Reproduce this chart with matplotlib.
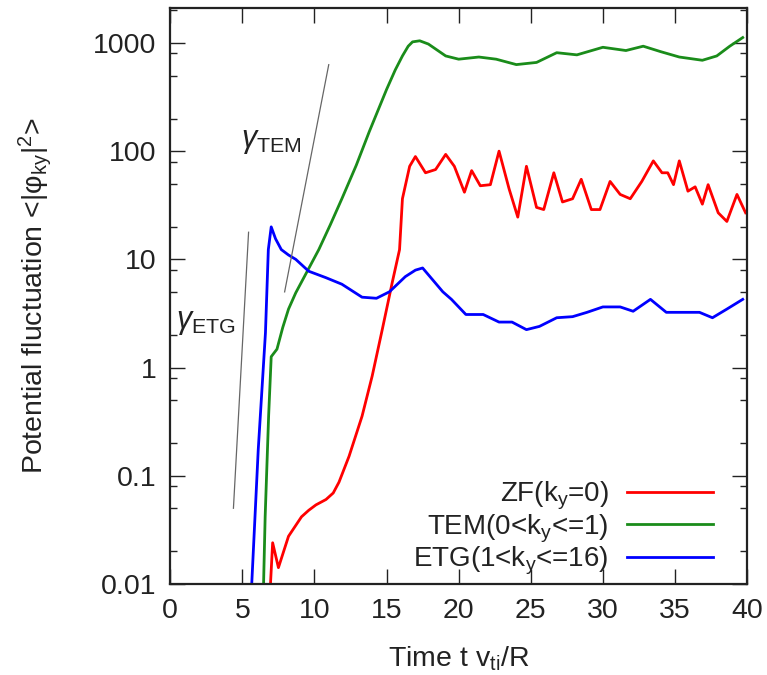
import numpy as np
import matplotlib
matplotlib.use('Agg')
import matplotlib.pyplot as plt
from matplotlib.ticker import LogLocator, NullFormatter, FixedLocator

plt.rcParams['font.family'] = ['Liberation Sans', 'DejaVu Sans']
plt.rcParams['mathtext.fontset'] = 'custom'
plt.rcParams['mathtext.rm'] = 'Liberation Sans'
plt.rcParams['mathtext.it'] = 'Liberation Sans:italic'

# ZF (k_y = 0), values as log10
t_zf = np.array([6.95, 7.1, 7.5, 8.2, 8.7, 9.1, 9.6, 10.1, 10.8, 11.3, 11.7, 12.4, 13.3, 14.0, 14.7,
                 15.4, 15.9, 16.1, 16.6, 17.0, 17.7, 18.4, 19.1, 19.7, 20.4, 20.9, 21.5, 22.2,
                 22.8, 23.5, 24.1, 24.7, 25.4, 25.9, 26.6, 27.2, 27.9, 28.5, 29.2, 29.8, 30.5,
                 31.2, 31.9, 32.7, 33.5, 34.1, 34.5, 34.9, 35.3, 35.9, 36.4, 36.9, 37.3, 38.0,
                 38.6, 39.3, 39.9])
log_zf = np.array([-2.0, -1.62, -1.85, -1.56, -1.46, -1.38, -1.32, -1.27, -1.22, -1.16, -1.06,
                   -0.82, -0.45, -0.08, 0.35, 0.79, 1.09, 1.56, 1.86, 1.95, 1.80, 1.83, 1.97,
                   1.86, 1.62, 1.82, 1.68, 1.69, 2.0, 1.65, 1.39, 1.86, 1.48, 1.46, 1.80, 1.53,
                   1.56, 1.74, 1.46, 1.46, 1.72, 1.60, 1.56, 1.72, 1.91, 1.80, 1.80, 1.69, 1.91,
                   1.63, 1.67, 1.51, 1.69, 1.43, 1.35, 1.60, 1.43])

# TEM (0 < k_y <= 1)
t_tem = np.array([6.47, 6.58, 6.82, 7.0, 7.4, 7.8, 8.2, 8.7, 9.1, 9.7, 10.3, 11.1, 11.9, 12.9,
                  13.8, 15.0, 15.6, 16.1, 16.5, 16.8, 17.3, 17.9, 19.1, 20.0, 21.4, 22.6, 24.0,
                  25.4, 26.8, 28.2, 30.0, 31.6, 32.8, 34.0, 35.3, 36.9, 37.9, 38.8, 39.7])
log_tem = np.array([-2.0, -1.38, -0.45, 0.10, 0.17, 0.37, 0.54, 0.69, 0.79, 0.94, 1.09, 1.32,
                    1.56, 1.87, 2.18, 2.57, 2.75, 2.88, 2.97, 3.01, 3.02, 2.99, 2.88, 2.85, 2.87,
                    2.85, 2.80, 2.82, 2.91, 2.89, 2.96, 2.93, 2.97, 2.92, 2.87, 2.84, 2.88, 2.97,
                    3.05])

# ETG (1 < k_y <= 16)
t_etg = np.array([5.65, 6.1, 6.6, 6.8, 7.0, 7.3, 7.7, 8.2, 8.7, 9.6, 10.8, 11.9, 13.3, 14.3, 15.2,
                  16.3, 17.0, 17.5, 18.2, 18.9, 19.5, 20.5, 21.7, 22.8, 23.7, 24.7, 25.6, 26.8,
                  27.9, 28.9, 30.0, 31.2, 32.1, 33.3, 34.4, 35.8, 36.7, 37.6, 38.6, 39.7])
log_etg = np.array([-2.0, -0.76, 0.32, 1.09, 1.30, 1.19, 1.09, 1.04, 1.0, 0.89, 0.83, 0.77, 0.65,
                    0.64, 0.70, 0.84, 0.90, 0.92, 0.81, 0.70, 0.63, 0.49, 0.49, 0.42, 0.42, 0.35,
                    0.38, 0.46, 0.47, 0.51, 0.56, 0.56, 0.52, 0.63, 0.51, 0.51, 0.51, 0.46, 0.54,
                    0.63])

# growth-rate guide lines
t_g_etg = np.array([4.38, 5.43])
y_g_etg = np.array([0.05, 17.8])
t_g_tem = np.array([7.93, 10.99])
y_g_tem = np.array([5.0, 630.0])

fig = plt.figure(figsize=(7.67, 6.75), dpi=100)
ax = fig.add_axes([0.222, 0.135, 0.752, 0.853])

ax.plot(t_zf, 10 ** log_zf, color='#ff0000', lw=2, label=r'ZF(k$_\mathrm{y}$=0)')
ax.plot(t_tem, 10 ** log_tem, color='#1a8c1a', lw=2, label=r'TEM(0<k$_\mathrm{y}$<=1)')
ax.plot(t_etg, 10 ** log_etg, color='#0000ff', lw=2, label=r'ETG(1<k$_\mathrm{y}$<=16)')

ax.plot(t_g_etg, y_g_etg, color='#666666', lw=0.9)
ax.plot(t_g_tem, y_g_tem, color='#666666', lw=0.9)

ax.text(4.9, 110, r'$\gamma_\mathrm{TEM}$', fontsize=22, color='#222222')
ax.text(0.4, 2.3, r'$\gamma_\mathrm{ETG}$', fontsize=22, color='#222222')

ax.set_yscale('log')
ax.set_xlim(0, 40)
ax.set_ylim(0.01, 2100)
ax.set_xticks(np.arange(0, 41, 5))
ax.yaxis.set_major_locator(FixedLocator([0.01, 0.1, 1, 10, 100, 1000]))
ax.set_yticklabels(['0.01', '0.1', '1', '10', '100', '1000'])
ax.yaxis.set_minor_locator(LogLocator(base=10, subs=[2, 5, 8]))
ax.yaxis.set_minor_formatter(NullFormatter())

ax.tick_params(which='both', direction='in', top=True, right=True, labelsize=20.5, colors='#222222')
ax.tick_params(which='major', length=11, width=1.0, pad=10)
ax.tick_params(which='minor', length=5, width=1.0)
for s in ax.spines.values():
    s.set_linewidth(1.6)
    s.set_color('#222222')

ax.set_xlabel(r'Time t v$_\mathrm{ti}$/R', fontsize=20.5, color='#222222', labelpad=15)
ax.set_ylabel(r'Potential fluctuation <|φ$_\mathrm{ky}$|$^2$>', fontsize=20.5, color='#222222',
              labelpad=28)

leg = ax.legend(loc='lower right', frameon=False, markerfirst=False, fontsize=20,
                handlelength=3.1, handletextpad=0.65, labelspacing=0.0,
                borderaxespad=0, borderpad=0, bbox_to_anchor=(0.941, 0.012))
for txt in leg.get_texts():
    txt.set_color('#222222')

fig.savefig('out.png', dpi=100)
